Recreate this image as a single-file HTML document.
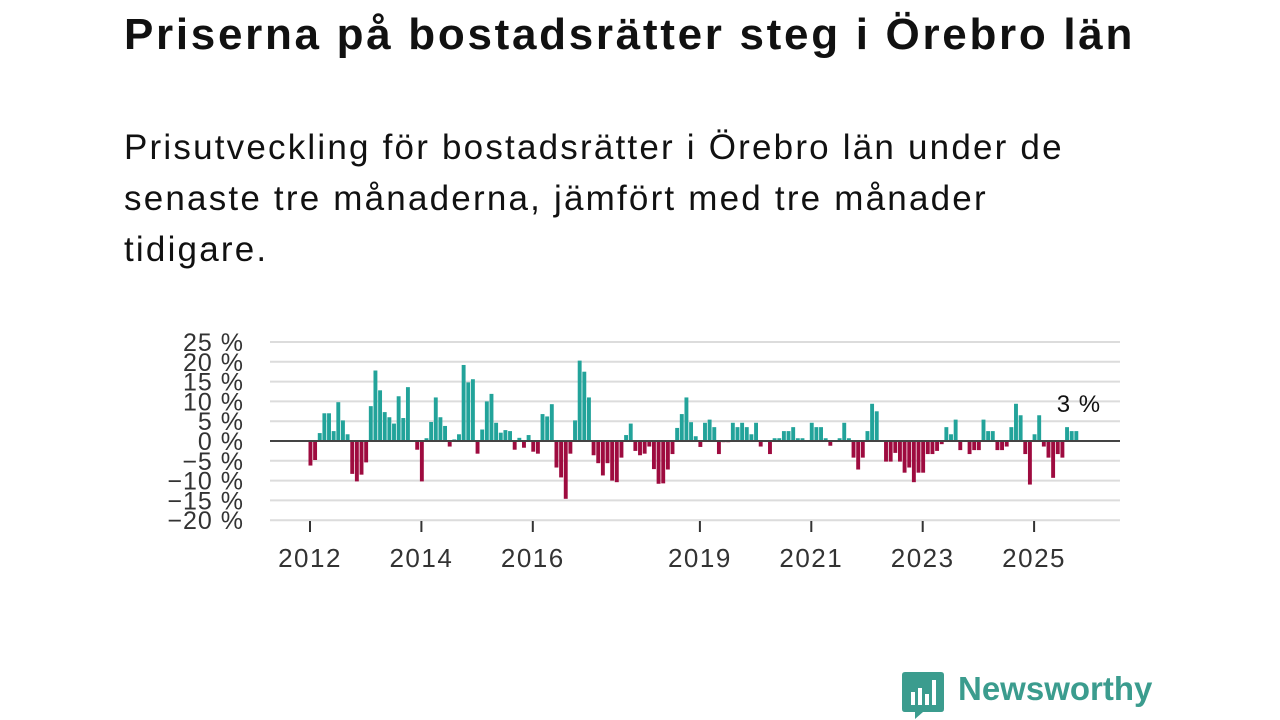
<!DOCTYPE html>
<html><head><meta charset="utf-8"><style>
body{margin:0;width:1280px;height:720px;background:#fff;font-family:"Liberation Sans","DejaVu Sans",sans-serif;overflow:hidden;position:relative}
h1{position:absolute;left:124px;top:10px;margin:0;font-size:44px;font-weight:bold;color:#111;letter-spacing:2.7px;white-space:nowrap}
.sub{position:absolute;left:124px;top:122px;width:1100px;font-size:35px;line-height:51px;color:#111;letter-spacing:2.2px;white-space:nowrap}
svg{position:absolute;left:0;top:0}
.logo{position:absolute;left:958px;top:670px;font-size:33px;font-weight:bold;color:#3b9c8e}
</style></head><body>
<h1>Priserna på bostadsrätter steg i Örebro län</h1>
<div class="sub">Prisutveckling för bostadsrätter i Örebro län under de<br>senaste tre månaderna, jämfört med tre månader<br>tidigare.</div>
<svg id="chart" width="1280" height="720"></svg>
<svg width="1280" height="720">
<path d="M905 672h36q3 0 3 3v34q0 3-3 3h-18l-8 7v-7h-10q-3 0-3-3v-34q0-3 3-3z" fill="#3b9c8e"/>
<rect x="911" y="692" width="4" height="13" fill="#fff"/><rect x="918" y="688" width="4" height="17" fill="#fff"/><rect x="925" y="694" width="4" height="11" fill="#fff"/><rect x="932" y="680" width="4" height="25" fill="#fff"/>
</svg>
<div class="logo">Newsworthy</div>
<script>
const yTicks=[25,20,15,10,5,0,-5,-10,-15,-20];
const xTickYears=[2012,2014,2016,2019,2021,2023,2025];
const startYear=2012;
const values=[-6.2,-4.8,2,7,7,2.5,9.8,5.2,1.7,-8.3,-10.2,-8.5,-5.4,8.8,17.8,12.8,7.3,6,4.4,11.3,5.8,13.6,0,-2.2,
-10.2,0.7,4.8,11,6,3.8,-1.4,0.4,1.7,19.2,14.8,15.6,-3.2,2.9,10,11.9,4.6,2.1,
2.75,2.5,-2.2,0.8,-1.7,1.5,-2.7,-3.2,6.8,6.2,9.3,-6.7,-9.2,-14.6,-3.2,5.2,20.3,17.5,11,-3.6,-5.6,-8.7,-5.6,-10,-10.4,-4.2,1.5,4.4,-2.5,-3.6,-3.2,-1.4,-7.1,-10.8,-10.7,-7.2,-3.3,3.3,6.8,11,4.75,1.2,
-1.5,4.6,5.4,3.5,-3.3,-0.3,-0.3,4.6,3.5,4.6,3.5,1.7,4.6,-1.4,0,-3.3,0.7,0.7,2.5,2.5,3.5,0.7,0.7,0,4.6,3.5,3.5,0.7,-1.2,0,0.7,4.6,0.7,-4.2,-7.2,-4.2,2.5,9.4,7.5,0,-5.2,-5.2,
-3,-5.2,-8,-6.7,-10.4,-8,-8,-3.3,-3.3,-2.5,-0.8,3.5,1.7,5.4,-2.3,0,-3.3,-2.3,-2.3,5.4,2.5,2.5,-2.3,-2.3,-1.4,3.5,9.4,6.5,-3.3,-11,1.7,6.5,-1.4,-4.2,-9.3,-3.3,-4.2,3.5,2.5,2.5];
const lastLabel="3 %";
const NS="http://www.w3.org/2000/svg";
const svg=document.getElementById('chart');
function xs(t){return 310+(t-2012)*55.7;}
function ys(v){return 441-v*3.96;}
function el(tag,attrs,parent){const e=document.createElementNS(NS,tag);for(const k in attrs)e.setAttribute(k,attrs[k]);(parent||svg).appendChild(e);return e;}
yTicks.forEach(v=>{
  if(v!==0){const l=el('line',{x1:270,x2:1120,y1:ys(v),y2:ys(v),stroke:'#dcdcdc','stroke-width':2});
  
  }
  const t=el('text',{x:244,y:ys(v)+9,'text-anchor':'end','font-size':25,fill:'#333','letter-spacing':1});
  t.textContent=(v<0?'\u2212'+(-v):v)+' %';
  
  
});
xTickYears.forEach(yr=>{
  const x=xs(yr);
  const tk=el('line',{x1:x,x2:x,y1:521,y2:532,stroke:'#333','stroke-width':2});
  
  
  const t=el('text',{x:x,y:567,'text-anchor':'middle','font-size':26,fill:'#333','letter-spacing':1.5});
  t.textContent=yr;
  
  
});
values.forEach((v,i)=>{
  const x=xs(startYear+i/12)-1.5;
  const y0=ys(0),y1=ys(v);
  const r=el('rect',{x:x,y:Math.min(y0,y1),width:3.9,height:Math.abs(y1-y0),fill:v>=0?'#22a39a':'#9e0b3f'});
  
  
});
const base=el('line',{x1:270,x2:1120,y1:ys(0),y2:ys(0),stroke:'#444','stroke-width':2});


const li=values.length-1;
const lab=el('text',{x:xs(startYear+li/12)+3,y:ys(values[li])-19,'text-anchor':'middle','font-size':24,fill:'#111','letter-spacing':1});
lab.textContent=lastLabel;


</script>
</body></html>
